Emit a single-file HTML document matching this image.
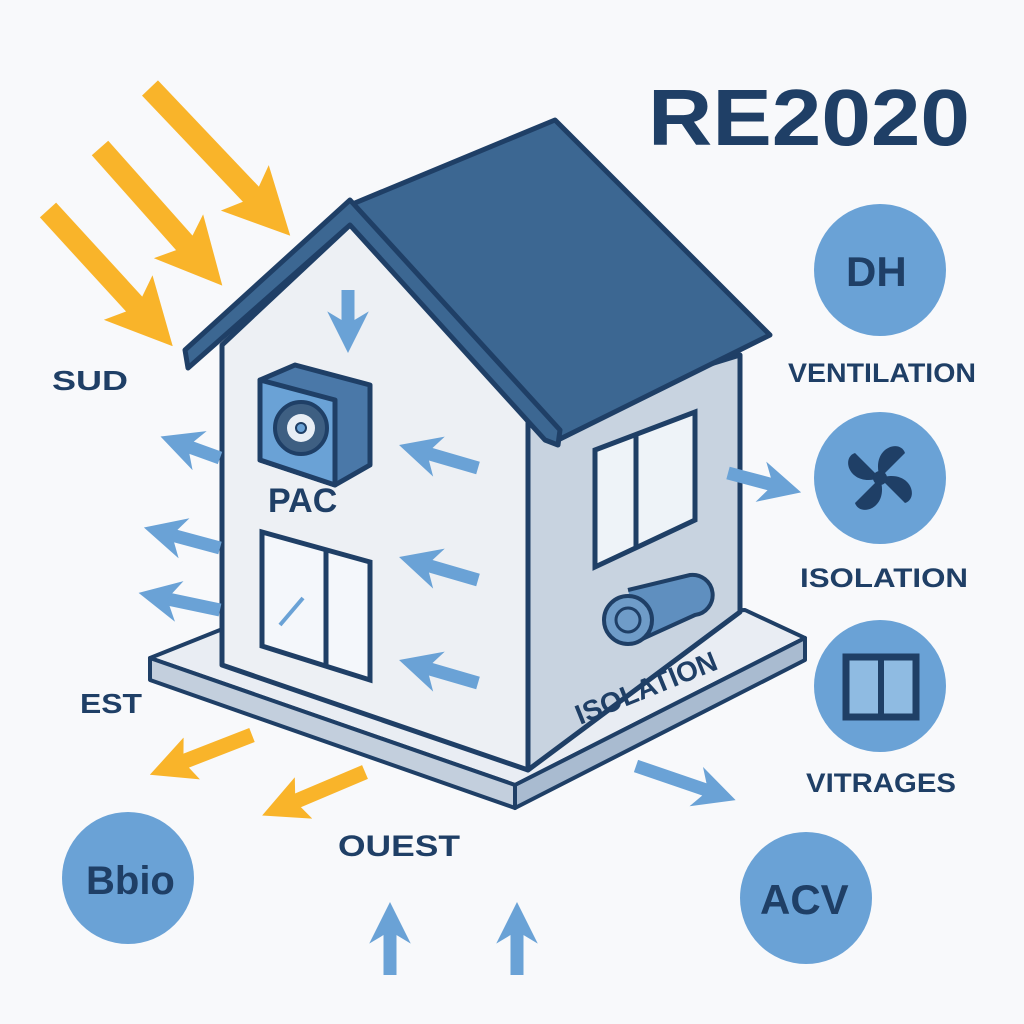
<!DOCTYPE html>
<html><head><style>html,body{margin:0;padding:0;background:#f8f9fb}svg{display:block}text{font-family:"Liberation Sans","DejaVu Sans",sans-serif;font-weight:bold;fill:#1f3f66}</style></head>
<body>
<svg width="1024" height="1024" viewBox="0 0 1024 1024" xmlns="http://www.w3.org/2000/svg">
<defs>
<marker id="ob" viewBox="0 0 10 10" refX="4" refY="5" markerWidth="3" markerHeight="3" orient="auto"><path d="M0,0 L10,5 L0,10 L2,5 Z" fill="#f9b42a"/></marker>
<marker id="bb" viewBox="0 0 10 10" refX="4" refY="5" markerWidth="3.2" markerHeight="3.2" orient="auto"><path d="M0,0 L10,5 L0,10 L3,5 Z" fill="#6aa2d6"/></marker>
</defs>
<rect width="1024" height="1024" fill="#f8f9fb"/>
<!-- sun arrows -->
<g stroke="#f9b42a" stroke-width="22" fill="none" marker-end="url(#ob)">
<path d="M150,88 L263,207"/>
<path d="M100,148 L196,256"/>
<path d="M48,210 L146,317"/>
</g>
<!-- base -->
<polygon points="150,658 230,626 745,610 805,638 515,785" fill="#e9edf3" stroke="#1f3f66" stroke-width="4" stroke-linejoin="round"/>
<polygon points="150,658 515,785 515,808 150,680" fill="#c3cfdd" stroke="#1f3f66" stroke-width="4" stroke-linejoin="round"/>
<polygon points="515,785 805,638 805,660 515,808" fill="#a9bbd0" stroke="#1f3f66" stroke-width="4" stroke-linejoin="round"/>
<!-- walls -->
<polygon points="222,345 350,225 528,420 528,770 222,665" fill="#edf0f4" stroke="#1f3f66" stroke-width="5" stroke-linejoin="round"/>
<polygon points="528,420 740,355 740,612 528,770" fill="#c8d3e0" stroke="#1f3f66" stroke-width="5" stroke-linejoin="round"/>
<!-- roof -->
<polygon points="350,205 555,120 770,335 558,440" fill="#3c6792" stroke="#1f3f66" stroke-width="5" stroke-linejoin="round"/>
<polygon points="350,200 185,350 188,368 350,225 545,440 558,445 560,430" fill="#3c6792" stroke="#1f3f66" stroke-width="5" stroke-linejoin="round"/>
<!-- PAC unit -->
<polygon points="260,380 295,365 370,385 370,465 335,485 260,460" fill="#4a78a8" stroke="#1f3f66" stroke-width="5" stroke-linejoin="round"/>
<polygon points="260,380 335,400 335,485 260,460" fill="#6aa2d6" stroke="#1f3f66" stroke-width="5" stroke-linejoin="round"/>
<circle cx="301" cy="428" r="26" fill="#3e5f82" stroke="#1f3f66" stroke-width="4"/>
<circle cx="301" cy="428" r="14" fill="#e8eef5"/><circle cx="301" cy="428" r="5" fill="#6aa2d6" stroke="#1f3f66" stroke-width="2"/>
<text x="268" y="512" font-size="34">PAC</text>
<!-- front window -->
<polygon points="262,532 370,562 370,680 262,646" fill="#f4f7fb" stroke="#1f3f66" stroke-width="5"/>
<line x1="326" y1="550" x2="326" y2="668" stroke="#1f3f66" stroke-width="5"/>
<line x1="280" y1="625" x2="303" y2="598" stroke="#6aa2d6" stroke-width="4"/>
<!-- side window -->
<polygon points="595,450 695,412 695,520 595,567" fill="#eef3f8" stroke="#1f3f66" stroke-width="5"/>
<line x1="636" y1="436" x2="636" y2="547" stroke="#1f3f66" stroke-width="5"/>
<!-- roll -->
<path d="M628,590 L690,575 A18,18 0 0 1 695,615 L640,640" fill="#5f8fbf" stroke="#1f3f66" stroke-width="4"/>
<circle cx="628" cy="620" r="24" fill="#6f9cc8" stroke="#1f3f66" stroke-width="4"/>
<circle cx="628" cy="620" r="12" fill="none" stroke="#1f3f66" stroke-width="3"/>
<text x="0" y="0" font-size="28" transform="translate(580,725) rotate(-22)">ISOLATION</text>
<!-- blue arrows -->
<g stroke="#6aa2d6" stroke-width="13" fill="none" marker-end="url(#bb)">
<path d="M348,290 L348,328"/>
<path d="M478,468 L423,452"/><path d="M478,580 L423,564"/><path d="M478,683 L423,667"/>
<path d="M220,458 L184,445"/><path d="M220,548 L168,534"/><path d="M220,610 L163,598"/>
<path d="M728,473 L777,486"/><path d="M636,766 L712,792"/>
<path d="M390,975 L390,927"/><path d="M517,975 L517,927"/>
</g>
<g stroke="#f9b42a" stroke-width="15" fill="none" marker-end="url(#ob)">
<path d="M252,735 L175,765"/><path d="M365,772 L287,805"/>
</g>
<!-- labels -->
<text x="648" y="145" font-size="80" textLength="322" lengthAdjust="spacingAndGlyphs">RE2020</text>
<text x="52" y="390" font-size="28" textLength="76" lengthAdjust="spacingAndGlyphs">SUD</text>
<text x="80" y="713" font-size="28" textLength="62" lengthAdjust="spacingAndGlyphs">EST</text>
<text x="338" y="856" font-size="30" textLength="122" lengthAdjust="spacingAndGlyphs">OUEST</text>
<text x="788" y="382" font-size="27" textLength="188" lengthAdjust="spacingAndGlyphs">VENTILATION</text>
<text x="800" y="587" font-size="27" textLength="168" lengthAdjust="spacingAndGlyphs">ISOLATION</text>
<text x="806" y="792" font-size="27" textLength="150" lengthAdjust="spacingAndGlyphs">VITRAGES</text>
<!-- circles -->
<circle cx="880" cy="270" r="66" fill="#6aa2d6"/><text x="846" y="286" font-size="42">DH</text>
<circle cx="880" cy="478" r="66" fill="#6aa2d6"/>
<g fill="#1f3f66" transform="translate(880,478)"><path d="M0,0 C-10,-30 20,-40 25,-25 Z"/><path d="M0,0 C30,-10 40,20 25,25 Z"/><path d="M0,0 C10,30 -20,40 -25,25 Z"/><path d="M0,0 C-30,10 -40,-20 -25,-25 Z"/><circle r="7"/></g>
<circle cx="880" cy="686" r="66" fill="#6aa2d6"/>
<rect x="846" y="657" width="70" height="60" fill="#8fbbe2" stroke="#1f3f66" stroke-width="7"/><line x1="881" y1="657" x2="881" y2="717" stroke="#1f3f66" stroke-width="6"/>
<circle cx="128" cy="878" r="66" fill="#6aa2d6"/><text x="86" y="894" font-size="40">Bbio</text>
<circle cx="806" cy="898" r="66" fill="#6aa2d6"/><text x="760" y="914" font-size="42">ACV</text>
</svg>
</body></html>
